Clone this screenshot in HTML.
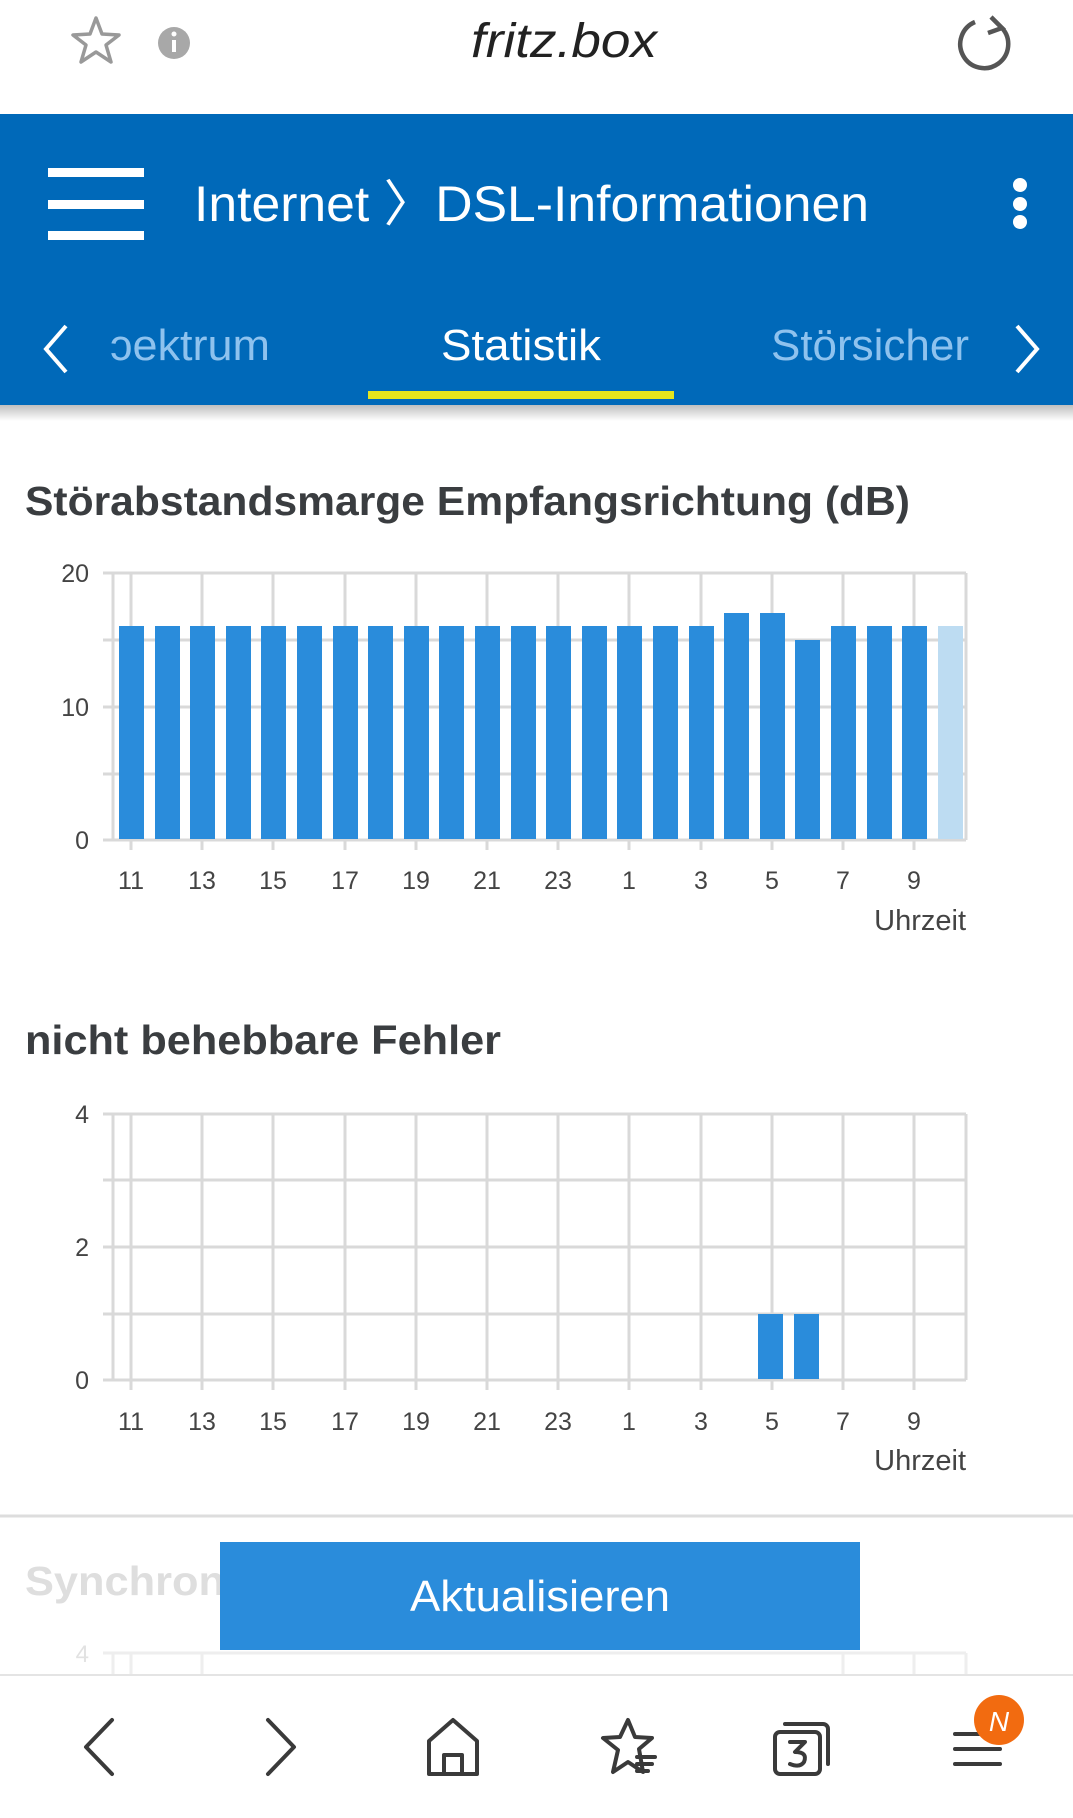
<!DOCTYPE html>
<html><head><meta charset="utf-8"><style>
html,body{margin:0;padding:0;background:#fff;width:1073px;height:1818px;overflow:hidden}
svg{display:block}
text{font-family:"Liberation Sans",sans-serif}
</style></head><body>
<svg width="1073" height="1818" viewBox="0 0 1073 1818" xmlns="http://www.w3.org/2000/svg">
<defs><linearGradient id="sh" x1="0" y1="0" x2="0" y2="1"><stop offset="0" stop-color="#000" stop-opacity="0.25"/><stop offset="1" stop-color="#000" stop-opacity="0"/></linearGradient></defs>
<rect x="0" y="0" width="1073" height="114" fill="#fff"/>
<polygon points="96,18 102,34 119,35 106,45 111,62 96,52 81,62 86,45 73,35 90,34" fill="none" stroke="#999" stroke-width="3.5" stroke-linejoin="round"/>
<circle cx="174" cy="43" r="16" fill="#a8a8a8"/>
<rect x="172" y="40" width="4" height="12" fill="#fff"/><circle cx="174" cy="34" r="2.5" fill="#fff"/>
<text x="471" y="57" font-family="Liberation Serif" font-style="italic" font-size="48" fill="#222" textLength="186" lengthAdjust="spacingAndGlyphs">fritz.box</text>
<path d="M975,22 A24,24 0 1 0 1002,28" fill="none" stroke="#555" stroke-width="4.5"/>
<path d="M991,17 L1002,28 L988,33" fill="none" stroke="#555" stroke-width="4.5"/>
<rect x="0" y="114" width="1073" height="291" fill="#0069b9"/>
<rect x="0" y="405" width="1073" height="16" fill="url(#sh)"/>
<rect x="48" y="168" width="96" height="9" fill="#fff"/>
<rect x="48" y="200" width="96" height="9" fill="#fff"/>
<rect x="48" y="231" width="96" height="9" fill="#fff"/>
<text x="194" y="221" font-size="50" fill="#fff" textLength="675" lengthAdjust="spacingAndGlyphs">Internet 〉DSL-Informationen</text>
<circle cx="1020" cy="185" r="7" fill="#fff"/><circle cx="1020" cy="204" r="7" fill="#fff"/><circle cx="1020" cy="222" r="7" fill="#fff"/>
<polyline points="66,326 46,349 66,372" fill="none" stroke="#fff" stroke-width="4"/>
<polyline points="1017,326 1037,349 1017,372" fill="none" stroke="#fff" stroke-width="4"/>
<text x="110" y="360" font-size="44" fill="#8ec2ee" textLength="160" lengthAdjust="spacingAndGlyphs">ɔektrum</text>
<text x="441" y="360" font-size="44" fill="#fff" textLength="160" lengthAdjust="spacingAndGlyphs">Statistik</text>
<text x="771" y="360" font-size="44" fill="#8ec2ee" textLength="198" lengthAdjust="spacingAndGlyphs">Störsicher</text>
<rect x="368" y="391" width="306" height="8" fill="#e6e61e"/>
<text x="25" y="515" font-size="41" font-weight="bold" fill="#3a3d40" textLength="885" lengthAdjust="spacingAndGlyphs">Störabstandsmarge Empfangsrichtung (dB)</text>
<g stroke="#d9d9d9" stroke-width="3" fill="none">
<line x1="103" y1="573" x2="966" y2="573"/><line x1="103" y1="640" x2="966" y2="640"/>
<line x1="103" y1="707" x2="966" y2="707"/><line x1="103" y1="774" x2="966" y2="774"/>
<line x1="103" y1="840" x2="966" y2="840"/>
<line x1="113" y1="573" x2="113" y2="840"/><line x1="966" y1="573" x2="966" y2="840"/>
<line x1="131" y1="573" x2="131" y2="850"/><line x1="202" y1="573" x2="202" y2="850"/>
<line x1="273" y1="573" x2="273" y2="850"/><line x1="345" y1="573" x2="345" y2="850"/>
<line x1="416" y1="573" x2="416" y2="850"/><line x1="487" y1="573" x2="487" y2="850"/>
<line x1="558" y1="573" x2="558" y2="850"/><line x1="629" y1="573" x2="629" y2="850"/>
<line x1="701" y1="573" x2="701" y2="850"/><line x1="772" y1="573" x2="772" y2="850"/>
<line x1="843" y1="573" x2="843" y2="850"/><line x1="914" y1="573" x2="914" y2="850"/>
</g>
<g fill="#2a8cdb">
<rect x="119" y="626" width="25" height="213"/><rect x="155" y="626" width="25" height="213"/>
<rect x="190" y="626" width="25" height="213"/><rect x="226" y="626" width="25" height="213"/>
<rect x="261" y="626" width="25" height="213"/><rect x="297" y="626" width="25" height="213"/>
<rect x="333" y="626" width="25" height="213"/><rect x="368" y="626" width="25" height="213"/>
<rect x="404" y="626" width="25" height="213"/><rect x="439" y="626" width="25" height="213"/>
<rect x="475" y="626" width="25" height="213"/><rect x="511" y="626" width="25" height="213"/>
<rect x="546" y="626" width="25" height="213"/><rect x="582" y="626" width="25" height="213"/>
<rect x="617" y="626" width="25" height="213"/><rect x="653" y="626" width="25" height="213"/>
<rect x="689" y="626" width="25" height="213"/><rect x="724" y="613" width="25" height="226"/>
<rect x="760" y="613" width="25" height="226"/><rect x="795" y="640" width="25" height="199"/>
<rect x="831" y="626" width="25" height="213"/><rect x="867" y="626" width="25" height="213"/>
<rect x="902" y="626" width="25" height="213"/>
</g>
<rect x="938" y="626" width="25" height="213" fill="#bddcf2"/>
<g font-size="25" fill="#444" text-anchor="end">
<text x="89" y="582">20</text><text x="89" y="716">10</text><text x="89" y="849">0</text>
</g>
<g font-size="25" fill="#444" text-anchor="middle">
<text x="131" y="889">11</text><text x="202" y="889">13</text><text x="273" y="889">15</text><text x="345" y="889">17</text>
<text x="416" y="889">19</text><text x="487" y="889">21</text><text x="558" y="889">23</text><text x="629" y="889">1</text>
<text x="701" y="889">3</text><text x="772" y="889">5</text><text x="843" y="889">7</text><text x="914" y="889">9</text>
</g>
<text x="966" y="930" font-size="29" fill="#444" text-anchor="end">Uhrzeit</text>
<text x="25" y="1054" font-size="41" font-weight="bold" fill="#3a3d40" textLength="476" lengthAdjust="spacingAndGlyphs">nicht behebbare Fehler</text>
<g stroke="#d9d9d9" stroke-width="3" fill="none">
<line x1="103" y1="1114" x2="966" y2="1114"/><line x1="103" y1="1180" x2="966" y2="1180"/>
<line x1="103" y1="1247" x2="966" y2="1247"/><line x1="103" y1="1314" x2="966" y2="1314"/>
<line x1="103" y1="1380" x2="966" y2="1380"/>
<line x1="113" y1="1114" x2="113" y2="1380"/><line x1="966" y1="1114" x2="966" y2="1380"/>
<line x1="131" y1="1114" x2="131" y2="1390"/><line x1="202" y1="1114" x2="202" y2="1390"/>
<line x1="273" y1="1114" x2="273" y2="1390"/><line x1="345" y1="1114" x2="345" y2="1390"/>
<line x1="416" y1="1114" x2="416" y2="1390"/><line x1="487" y1="1114" x2="487" y2="1390"/>
<line x1="558" y1="1114" x2="558" y2="1390"/><line x1="629" y1="1114" x2="629" y2="1390"/>
<line x1="701" y1="1114" x2="701" y2="1390"/><line x1="772" y1="1114" x2="772" y2="1390"/>
<line x1="843" y1="1114" x2="843" y2="1390"/><line x1="914" y1="1114" x2="914" y2="1390"/>
</g>
<rect x="758" y="1314" width="25" height="65" fill="#2a8cdb"/>
<rect x="794" y="1314" width="25" height="65" fill="#2a8cdb"/>
<g font-size="25" fill="#444" text-anchor="end">
<text x="89" y="1123">4</text><text x="89" y="1256">2</text><text x="89" y="1389">0</text>
</g>
<g font-size="25" fill="#444" text-anchor="middle">
<text x="131" y="1430">11</text><text x="202" y="1430">13</text><text x="273" y="1430">15</text><text x="345" y="1430">17</text>
<text x="416" y="1430">19</text><text x="487" y="1430">21</text><text x="558" y="1430">23</text><text x="629" y="1430">1</text>
<text x="701" y="1430">3</text><text x="772" y="1430">5</text><text x="843" y="1430">7</text><text x="914" y="1430">9</text>
</g>
<text x="966" y="1470" font-size="29" fill="#444" text-anchor="end">Uhrzeit</text>
<line x1="0" y1="1516" x2="1073" y2="1516" stroke="#ddd" stroke-width="3"/>
<text x="25" y="1595" font-size="41" font-weight="bold" fill="#dedede" textLength="200" lengthAdjust="spacingAndGlyphs">Synchron</text>
<text x="89" y="1662" font-size="24" fill="#e2e2e2" text-anchor="end">4</text>
<g stroke="#eee" stroke-width="3">
<line x1="103" y1="1653" x2="966" y2="1653"/>
<line x1="113" y1="1653" x2="113" y2="1675"/><line x1="131" y1="1653" x2="131" y2="1675"/>
<line x1="202" y1="1653" x2="202" y2="1675"/><line x1="966" y1="1653" x2="966" y2="1675"/>
<line x1="914" y1="1653" x2="914" y2="1675"/><line x1="843" y1="1653" x2="843" y2="1675"/>
</g>
<rect x="220" y="1542" width="640" height="108" fill="#2a8cdb"/>
<text x="540" y="1611" font-size="44" fill="#fff" text-anchor="middle" textLength="260" lengthAdjust="spacingAndGlyphs">Aktualisieren</text>
<rect x="0" y="1675" width="1073" height="143" fill="#fff"/>
<line x1="0" y1="1675" x2="1073" y2="1675" stroke="#e4e4e4" stroke-width="2"/>
<g fill="none" stroke="#3a3a3a" stroke-width="4" stroke-linecap="round" stroke-linejoin="round">
<polyline points="112,1720 86,1747 112,1774"/>
<polyline points="268,1720 294,1747 268,1774"/>
<path d="M429,1774 V1741 L453,1720 L477,1741 V1774 Z M444,1774 V1755 H462 V1774"/>
<polygon points="628,1720 635,1737 652,1738 639,1749 643,1772 628,1762 613,1772 618,1750 603,1738 620,1737"/>
<line x1="637" y1="1757" x2="655" y2="1757"/><line x1="637" y1="1764" x2="652" y2="1764"/><line x1="637" y1="1771" x2="648" y2="1771"/>
<rect x="775" y="1732" width="45" height="42" rx="5"/><path d="M785,1724 H823 a5,5 0 0 1 5,5 V1764"/>
<path d="M790,1742 H805 L795,1752 Q808,1752 804,1762 Q800,1768 790,1764"/>
<line x1="955" y1="1734" x2="1000" y2="1734"/><line x1="955" y1="1749" x2="1000" y2="1749"/><line x1="955" y1="1764" x2="1000" y2="1764"/>
</g>
<circle cx="999" cy="1720" r="25" fill="#f26b10"/>
<text x="999" y="1731" font-size="28" font-style="italic" fill="#fff" text-anchor="middle">N</text>
</svg>
</body></html>
